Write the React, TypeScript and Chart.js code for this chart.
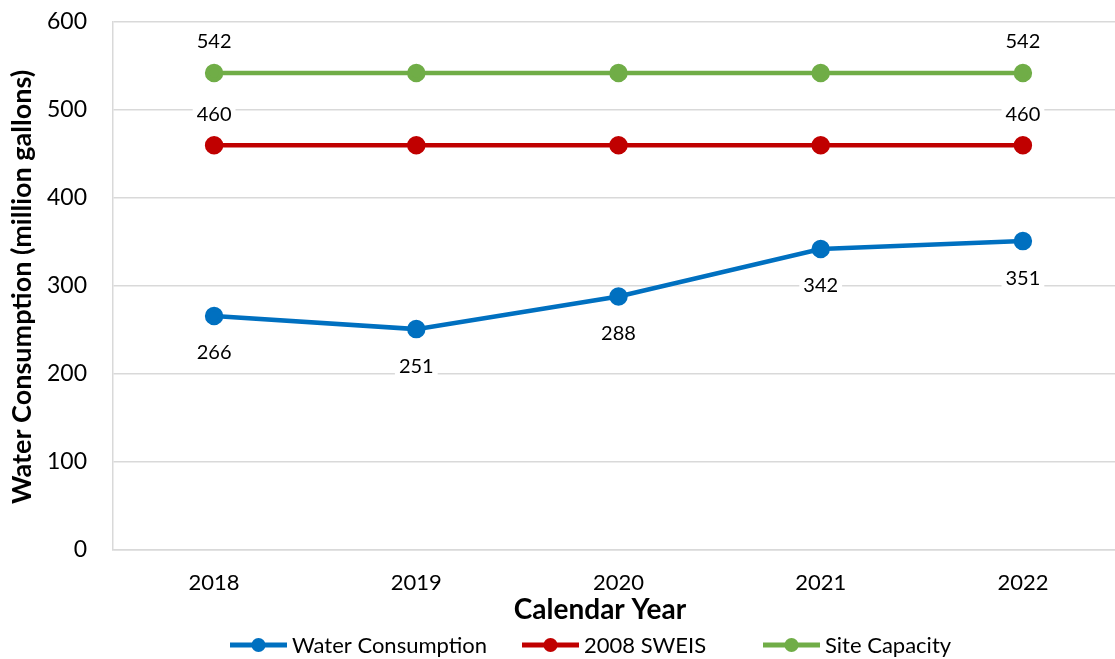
import React, { useEffect, useRef } from "react";
import { Chart, registerables } from "chart.js";

Chart.register(...registerables);

const years = ["2018", "2019", "2020", "2021", "2022"];
const waterConsumption = [266, 251, 288, 342, 351];
const sweis2008 = [460, 460, 460, 460, 460];
const siteCapacity = [542, 542, 542, 542, 542];
const seriesNames = ["Water Consumption", "2008 SWEIS", "Site Capacity"];
const seriesColors = ["#0070C0", "#C00000", "#70AD47"];
const labeledPoints = [[0, 1, 2, 3, 4], [0, 4], [0, 4]];
const labelSides = ["below", "above", "above"];
const yMin = 0;
const yMax = 600;
const yStep = 100;
const xTitle = "Calendar Year";
const yTitle = "Water Consumption (million gallons)";

const FONT = "Lato, 'Open Sans', sans-serif";
const LEGEND_X = [230, 522, 763];

const decorPlugin = {
  id: "decor",
  afterDatasetsDraw(chart: any) {
    const ctx = chart.ctx;
    ctx.save();
    ctx.font = `20px ${FONT}`;
    ctx.textAlign = "center";
    ctx.textBaseline = "middle";
    chart.data.datasets.forEach((ds: any, di: number) => {
      const meta = chart.getDatasetMeta(di);
      labeledPoints[di].forEach((i) => {
        const pt = meta.data[i];
        if (!pt) return;
        const txt = String(ds.data[i]);
        const y = labelSides[di] === "above" ? pt.y - 32 : pt.y + 36;
        const w = ctx.measureText(txt).width;
        ctx.fillStyle = "#ffffff";
        ctx.fillRect(pt.x - w / 2 - 4, y - 11, w + 8, 22);
        ctx.fillStyle = "#000000";
        ctx.fillText(txt, pt.x, y + 1);
      });
    });
    ctx.restore();
  },
  afterDraw(chart: any) {
    const ctx = chart.ctx;
    const area = chart.chartArea;
    ctx.save();
    ctx.fillStyle = "#000000";
    ctx.font = `bold 28px ${FONT}`;
    ctx.textAlign = "center";
    ctx.textBaseline = "middle";
    ctx.fillText(xTitle, 600, 610);
    ctx.save();
    ctx.translate(22, (area.top + area.bottom) / 2 + 1);
    ctx.rotate(-Math.PI / 2);
    ctx.font = `bold 27px ${FONT}`;
    ctx.fillText(yTitle, 0, 0);
    ctx.restore();
    ctx.font = `22px ${FONT}`;
    const lineLen = 57;
    const gapText = 5;
    const ly = 645;
    seriesNames.forEach((n, i) => {
      const x = LEGEND_X[i];
      ctx.strokeStyle = seriesColors[i];
      ctx.lineWidth = 5;
      ctx.beginPath();
      ctx.moveTo(x, ly);
      ctx.lineTo(x + lineLen, ly);
      ctx.stroke();
      ctx.fillStyle = seriesColors[i];
      ctx.beginPath();
      ctx.arc(x + lineLen / 2, ly, 7, 0, Math.PI * 2);
      ctx.fill();
      ctx.fillStyle = "#000000";
      ctx.textAlign = "left";
      ctx.fillText(n, x + lineLen + gapText, ly + 1);
    });
    ctx.restore();
  },
};

export default function App() {
  const ref = useRef<HTMLCanvasElement | null>(null);
  useEffect(() => {
    if (!ref.current) return;
    const series = [waterConsumption, sweis2008, siteCapacity];
    const chart = new Chart(ref.current, {
      type: "line",
      data: {
        labels: years,
        datasets: series.map((d, i) => ({
          label: seriesNames[i],
          data: d,
          borderColor: seriesColors[i],
          backgroundColor: seriesColors[i],
          pointBackgroundColor: seriesColors[i],
          pointBorderColor: seriesColors[i],
          borderWidth: 4.5,
          pointRadius: 7,
          pointHoverRadius: 7,
          fill: false,
          tension: 0,
        })),
      },
      options: {
        responsive: false,
        animation: false,
        layout: { autoPadding: false, padding: { top: 22, left: 0, right: 0, bottom: 0 } },
        plugins: {
          legend: { display: false },
          tooltip: { enabled: false },
          title: { display: false },
        },
        scales: {
          x: {
            offset: true,
            grid: { display: false, drawTicks: false },
            border: { display: true, color: "#d9d9d9", width: 1.5 },
            ticks: {
              color: "#000000",
              font: { family: FONT, size: 22 },
              padding: 20,
            },
            afterFit: (scale: any) => {
              scale.height = 109;
              scale.paddingLeft = 0;
              scale.paddingRight = 0;
            },
          },
          y: {
            min: yMin,
            max: yMax,
            grid: { color: "#d9d9d9", lineWidth: 1.5, drawTicks: false },
            border: { display: true, color: "#d9d9d9", width: 1.5 },
            ticks: {
              stepSize: yStep,
              color: "#000000",
              font: { family: FONT, size: 23 },
              padding: 26,
            },
            afterFit: (scale: any) => {
              scale.width = 113;
              scale.paddingTop = 0;
              scale.paddingBottom = 0;
            },
          },
        },
      },
      plugins: [decorPlugin],
    });
    return () => chart.destroy();
  }, []);
  return (
    <div
      style={{
        position: "fixed",
        left: 0,
        top: 0,
        width: 1115,
        height: 659,
        overflow: "hidden",
        background: "#ffffff",
      }}
    >
      <canvas ref={ref} width={1124} height={659} style={{ display: "block" }} />
    </div>
  );
}
